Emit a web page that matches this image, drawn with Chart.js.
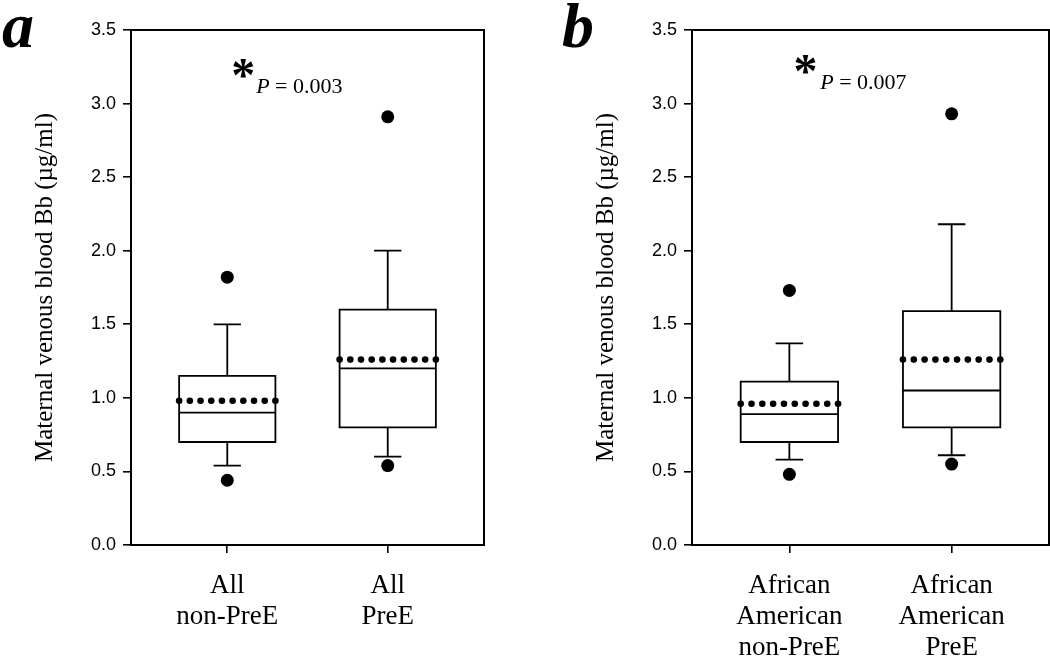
<!DOCTYPE html>
<html>
<head>
<meta charset="utf-8">
<title>Maternal venous blood Bb</title>
<script src="https://cdn.jsdelivr.net/npm/chart.js"></script>
<style>
body{margin:0;background:#fff;overflow:hidden;}
.wrap{position:relative;width:1050px;height:659px;}
.panel{position:absolute;top:0;height:659px;}
#pa{left:0;width:486px;}
#pb{left:560px;width:490px;}
</style>
</head>
<body>
<div class="wrap">
    <div class="panel" id="pa"><canvas id="chartA"></canvas></div>
    <div class="panel" id="pb"><canvas id="chartB"></canvas></div>
</div>

<script>
// panel a : all subjects
const labelsA = [["All", "non-PreE"], ["All", "PreE"]];
const q1A     = [0.70, 0.80];
const medA    = [0.90, 1.20];
const q3A     = [1.15, 1.60];
const meanA   = [0.98, 1.26];
const whLoA   = [0.54, 0.60];
const whHiA   = [1.50, 2.00];
const outLoA  = [0.44, 0.54];
const outHiA  = [1.82, 2.91];

// panel b : African American subjects
const labelsB = [["African", "American", "non-PreE"], ["African", "American", "PreE"]];
const q1B     = [0.70, 0.80];
const medB    = [0.89, 1.05];
const q3B     = [1.11, 1.59];
const meanB   = [0.96, 1.26];
const whLoB   = [0.58, 0.61];
const whHiB   = [1.37, 2.18];
const outLoB  = [0.48, 0.55];
const outHiB  = [1.73, 2.93];

const yTitle = "Maternal venous blood Bb (\u00b5g/ml)";

// draws the boxes, whiskers, median and mean dots through the scales
const boxPlugin = {
    id: 'boxes',
    beforeDatasetsDraw(chart, args, o){
        const ctx = chart.ctx, xs = chart.scales.x, ys = chart.scales.y;
        ctx.save();
        ctx.strokeStyle = '#000';
        ctx.fillStyle = '#000';
        ctx.lineWidth = 1.8;
        for (let i = 0; i < o.med.length; i++) {
            const cx = xs.getPixelForValue(i + 1);
            const half = xs.getPixelForValue(i + 1.3) - cx;
            const cap = xs.getPixelForValue(i + 1.085) - cx;
            const yq1 = ys.getPixelForValue(o.q1[i]);
            const yq3 = ys.getPixelForValue(o.q3[i]);
            const yHi = ys.getPixelForValue(o.whHi[i]);
            const yLo = ys.getPixelForValue(o.whLo[i]);
            const yMed = ys.getPixelForValue(o.med[i]);
            ctx.beginPath();
            ctx.rect(cx - half, yq3, half * 2, yq1 - yq3);
            // median
            ctx.moveTo(cx - half, yMed); ctx.lineTo(cx + half, yMed);
            // whiskers
            ctx.moveTo(cx, yq3); ctx.lineTo(cx, yHi);
            ctx.moveTo(cx - cap, yHi); ctx.lineTo(cx + cap, yHi);
            ctx.moveTo(cx, yq1); ctx.lineTo(cx, yLo);
            ctx.moveTo(cx - cap, yLo); ctx.lineTo(cx + cap, yLo);
            ctx.stroke();
            // mean, dotted
            const yMean = ys.getPixelForValue(o.mean[i]);
            for (let k = 0; k < 10; k++) {
                ctx.beginPath();
                ctx.arc(cx - half + k * (2 * half / 9), yMean, 3.3, 0, Math.PI * 2);
                ctx.fill();
            }
        }
        ctx.restore();
    },
    afterDraw(chart, args, o){
        const ctx = chart.ctx, a = chart.chartArea;
        const xs = chart.scales.x, ys = chart.scales.y;
        ctx.save();
        ctx.strokeStyle = '#000';
        ctx.lineWidth = 2;
        ctx.strokeRect(a.left, a.top, a.right - a.left, a.bottom - a.top);
        // significance note
        ctx.fillStyle = '#000';
        ctx.textBaseline = 'alphabetic';
        ctx.textAlign = 'center';
        ctx.font = 'bold 48px "Liberation Serif"';
        ctx.fillText('*', xs.getPixelForValue(o.starX), ys.getPixelForValue(o.noteY) - 2);
        ctx.textAlign = 'left';
        const px = xs.getPixelForValue(o.pX), py = ys.getPixelForValue(o.noteY);
        ctx.font = 'italic 22px "Liberation Serif"';
        ctx.fillText('P', px, py);
        const w = ctx.measureText('P').width;
        ctx.font = '22px "Liberation Serif"';
        ctx.fillText(' = ' + o.pText, px + w, py);
        // panel letter
        ctx.font = 'bold italic 64px "Liberation Serif"';
        ctx.fillText(o.letter, 2, 47);
        ctx.restore();
    }
};

function makePanel(id, labels, q1, med, q3, mean, whLo, whHi, outLo, outHi, note, yWidth, padRight, titlePad){
    const pts = [];
    for (let i = 0; i < med.length; i++) {
        pts.push({x: i + 1, y: outLo[i]});
        pts.push({x: i + 1, y: outHi[i]});
    }
    return new Chart(document.getElementById(id), {
        type: 'scatter',
        data: {
            datasets: [{
                label: 'outliers',
                data: pts,
                pointRadius: 6.5,
                pointHoverRadius: 6.5,
                backgroundColor: '#000',
                borderColor: '#000',
                borderWidth: 0
            }]
        },
        options: {
            responsive: true,
            maintainAspectRatio: false,
            animation: false,
            layout: { autoPadding: false, padding: { left: 0, right: padRight, top: 30, bottom: 0 } },
            plugins: {
                legend: { display: false },
                tooltip: { enabled: false },
                boxes: Object.assign({ q1: q1, med: med, q3: q3, mean: mean, whLo: whLo, whHi: whHi }, note)
            },
            scales: {
                x: {
                    type: 'linear',
                    min: 0.4,
                    max: 2.6,
                    afterBuildTicks: function(s){ s.ticks = [{value: 1}, {value: 2}]; },
                    afterFit: function(s){ s.height = 114; },
                    ticks: {
                        autoSkip: false,
                        maxRotation: 0,
                        padding: 17,
                        color: '#000',
                        font: { family: '"Liberation Serif"', size: 27, lineHeight: 1.16 },
                        callback: function(v){ return labels[v - 1]; }
                    },
                    grid: { drawOnChartArea: false, drawTicks: true, tickLength: 8, color: '#000', lineWidth: 1.6 },
                    border: { display: true, color: '#000', width: 2 }
                },
                y: {
                    min: 0,
                    max: 3.5,
                    afterFit: function(s){ s.width = yWidth; },
                    ticks: {
                        stepSize: 0.5,
                        padding: 7,
                        color: '#000',
                        font: { family: '"Liberation Sans"', size: 18 },
                        callback: function(v){ return v.toFixed(1); }
                    },
                    grid: { drawOnChartArea: false, drawTicks: true, tickLength: 8, color: '#000', lineWidth: 1.6 },
                    border: { display: true, color: '#000', width: 2 },
                    title: {
                        display: true,
                        text: yTitle,
                        color: '#000',
                        padding: { top: titlePad, bottom: 0 },
                        font: { family: '"Liberation Serif"', size: 25 }
                    }
                }
            }
        },
        plugins: [boxPlugin]
    });
}

makePanel('chartA', labelsA, q1A, medA, q3A, meanA, whLoA, whHiA, outLoA, outHiA,
    { letter: 'a', pText: '0.003', starX: 1.1, pX: 1.18, noteY: 3.07 }, 131, 2, 30);
makePanel('chartB', labelsB, q1B, medB, q3B, meanB, whLoB, whHiB, outLoB, outHiB,
    { letter: 'b', pText: '0.007', starX: 1.1, pX: 1.19, noteY: 3.10 }, 132, 1, 31);
</script>
</body>
</html>
